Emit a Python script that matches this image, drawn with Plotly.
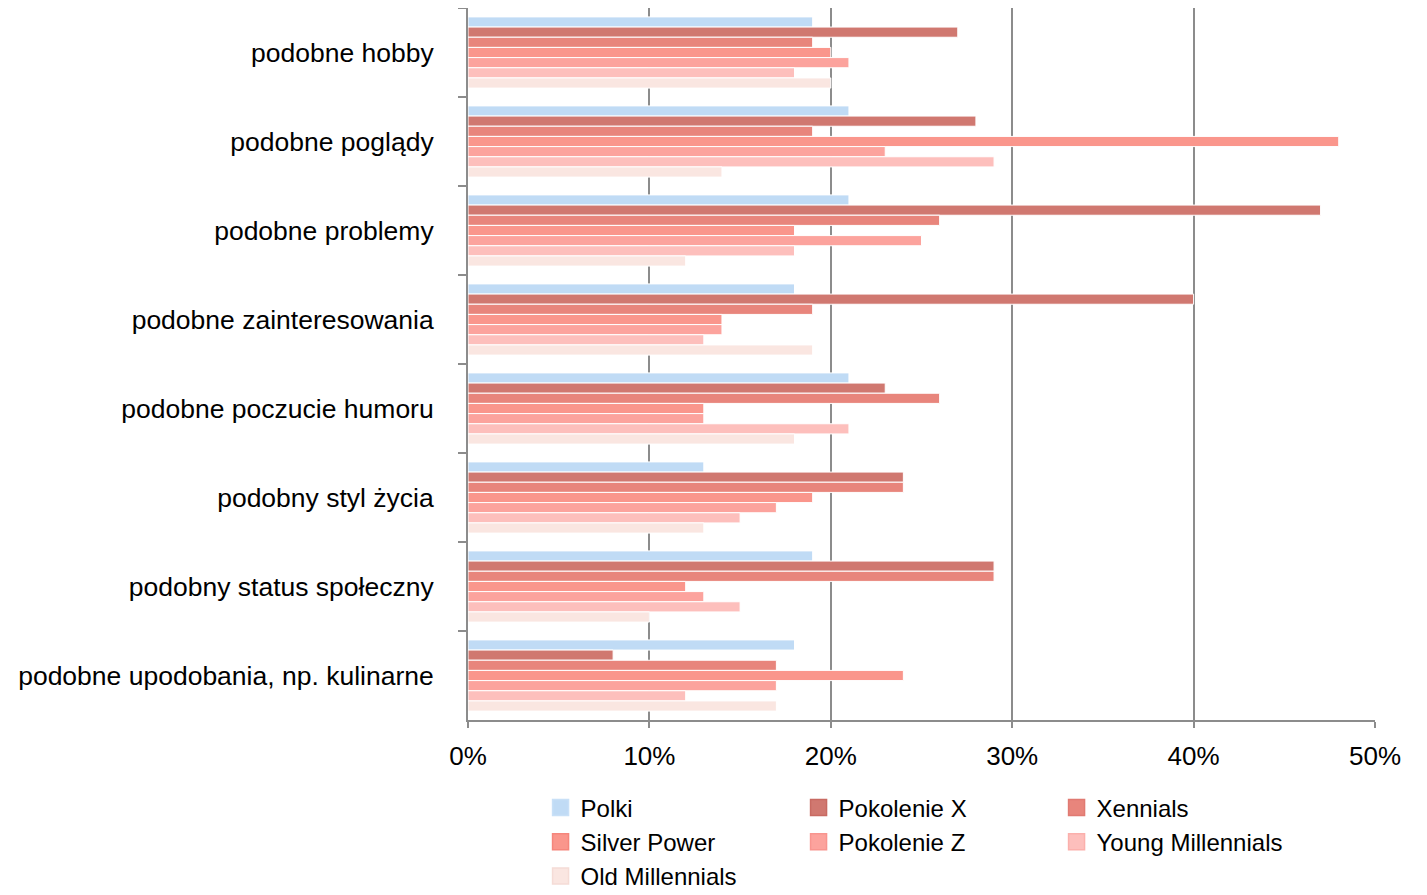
import plotly.graph_objects as go

categories = [
    "podobne hobby",
    "podobne poglądy",
    "podobne problemy",
    "podobne zainteresowania",
    "podobne poczucie humoru",
    "podobny styl życia",
    "podobny status społeczny",
    "podobne upodobania, np. kulinarne",
]

polki = [19, 21, 21, 18, 21, 13, 19, 18]
pokolenie_x = [27, 28, 47, 40, 23, 24, 29, 8]
xennials = [19, 19, 26, 19, 26, 24, 29, 17]
silver_power = [20, 48, 18, 14, 13, 19, 12, 24]
pokolenie_z = [21, 23, 25, 14, 13, 17, 13, 17]
young_millennials = [18, 29, 18, 13, 21, 15, 15, 12]
old_millennials = [20, 14, 12, 19, 18, 13, 10, 17]

series_names = ["Polki", "Pokolenie X", "Xennials", "Silver Power",
                "Pokolenie Z", "Young Millennials", "Old Millennials"]
series_values = [polki, pokolenie_x, xennials, silver_power,
                 pokolenie_z, young_millennials, old_millennials]
colors = ["#c0dbf5", "#d07870", "#e8857c", "#fa968c",
          "#fca39d", "#fdbfbc", "#fae6e1"]
edge_colors = ["#c8e0f7", "#c86a62", "#e07a72", "#f5867c",
               "#f8958f", "#fbb0ac", "#f5dcd6"]

x_ticks = [0, 10, 20, 30, 40, 50]
x_tick_labels = ["0%", "10%", "20%", "30%", "40%", "50%"]

fig = go.Figure()
for name, vals, c in zip(series_names, series_values, colors):
    fig.add_trace(go.Bar(
        name=name, x=vals, y=categories, orientation="h",
        marker=dict(color=c, line=dict(color="white", width=1)),
        showlegend=False, legendgroup=name,
    ))

# legend entries with larger square swatches
for name, c, ec in zip(series_names, colors, edge_colors):
    fig.add_trace(go.Scatter(
        name=name, x=[None], y=[None], mode="markers",
        marker=dict(symbol="square", size=16, color=c,
                    line=dict(color=ec, width=1.5)),
        showlegend=True, legendgroup=name, hoverinfo="skip",
    ))

font_family = "Helvetica, 'Liberation Sans', Arial, sans-serif"
grid_col = "#8c8c8c"

fig.update_layout(
    width=1419, height=925,
    barmode="group", bargap=0.2, bargroupgap=0,
    plot_bgcolor="white", paper_bgcolor="white",
    margin=dict(l=460, r=52, t=0, b=213),
    font=dict(family=font_family, size=26, color="black"),
    showlegend=True,
    legend=dict(
        orientation="h", x=0.080, y=-0.092, xanchor="left", yanchor="top",
        entrywidth=213, entrywidthmode="pixels",
        font=dict(size=24), tracegroupgap=0, itemclick=False,
    ),
    xaxis=dict(
        range=[0, 50], tickvals=x_ticks, ticktext=x_tick_labels,
        showgrid=True, gridcolor=grid_col, gridwidth=2,
        showline=True, linecolor=grid_col, linewidth=2,
        ticks="outside", ticklen=6, tickwidth=2, tickcolor=grid_col,
        zeroline=False, tickfont=dict(size=26), ticklabelstandoff=6,
    ),
    yaxis=dict(
        autorange="reversed", type="category",
        showline=True, linecolor=grid_col, linewidth=2,
        ticks="outside", tickson="boundaries", ticklen=8, tickwidth=2,
        tickcolor=grid_col, showgrid=False,
        tickfont=dict(size=26.5), ticklabelstandoff=27,
    ),
)

fig.write_html("out.html")
